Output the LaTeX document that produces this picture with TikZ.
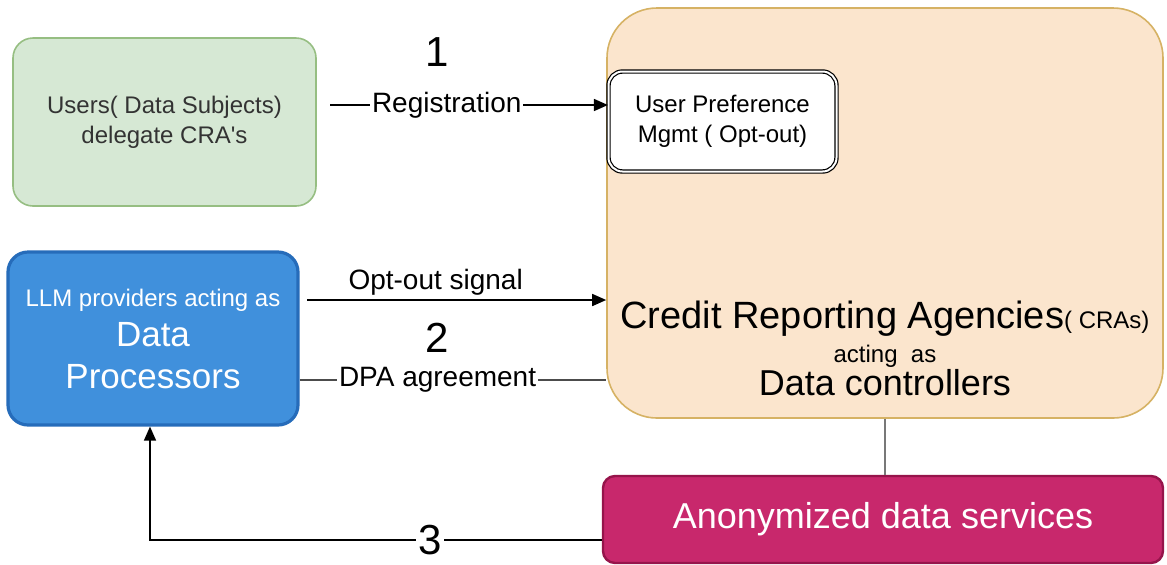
\documentclass[tikz,border=0pt]{standalone}
\usepackage{fontspec}
\setmainfont{Liberation Sans}
\usepackage{tikz}
\usetikzlibrary{calc}
\usetikzlibrary{positioning}
\usetikzlibrary{arrows.meta}

\definecolor{userfill}{RGB}{214,232,212}
\definecolor{userline}{RGB}{150,190,130}
\definecolor{llmfill}{RGB}{64,144,220}
\definecolor{llmline}{RGB}{38,108,186}
\definecolor{crafill}{RGB}{251,229,205}
\definecolor{craline}{RGB}{214,178,100}
\definecolor{anonfill}{RGB}{200,40,108}
\definecolor{anonline}{RGB}{150,20,75}
\definecolor{wire}{RGB}{120,120,120}

\begin{document}
\begin{tikzpicture}[x=0.5pt, y=-0.5pt,
    box/.style={rectangle, rounded corners=10pt, draw, line width=0.8pt, align=center, inner sep=0pt},
    flow/.style={line width=0.8pt, -{Triangle[length=7pt,width=6pt]}},
    num/.style={inner sep=1pt, font=\fontsize{21}{24}\selectfont},
    lbl/.style={fill=white, inner sep=1pt, font=\fontsize{14}{16}\selectfont}]
    \useasboundingbox (0,0) rectangle (1167,564);

    % boxes
    \node[box, fill=userfill, draw=userline, text=black!80, minimum width=151.5pt, minimum height=84pt,
        font=\fontsize{12}{15}\selectfont] (users) at (164.5,122) {Users( Data Subjects)\\ delegate CRA\textquotesingle s};
    \node[box, fill=llmfill, draw=llmline, line width=1.6pt, text=white, minimum width=145pt, minimum height=86.5pt,
        font=\fontsize{12}{15}\selectfont] (llm) at (153,338.5)
        {LLM providers acting as\\[5pt] {\fontsize{17.5}{21}\selectfont Data}\\[6pt] {\fontsize{17.5}{21}\selectfont Processors}};
    \node[box, fill=crafill, draw=craline, rounded corners=25pt, minimum width=278pt, minimum height=205pt] (cra) at (885,213) {};
    \node[box, fill=white, double, double distance=1pt, line width=0.6pt, rounded corners=7pt, minimum width=114pt, minimum height=50pt,
        font=\fontsize{12}{15}\selectfont] (pref) at (722.5,121.5) {User Preference\\ Mgmt ( Opt-out)};
    \node[align=center, font=\fontsize{12}{15}\selectfont] (ctrl) at (885,348)
        {{\fontsize{19}{22}\selectfont Credit Reporting Agencies}{\fontsize{12}{14}\selectfont( CRAs)}\\[2pt]
         acting\ \ as\\ {\fontsize{18}{21}\selectfont Data controllers}};
    \node[box, fill=anonfill, draw=anonline, line width=1.2pt, rounded corners=6pt, text=white, minimum width=280pt, minimum height=43.5pt,
        font=\fontsize{18}{21}\selectfont] (anon) at (883,519.5) {Anonymized data services};

    % connectors
    \coordinate (regstart) at (330,105);
    \coordinate (optstart) at (307,300);
    \coordinate (dpa) at (0,380);
    \coordinate (back) at (0,540);
    \draw[flow] (regstart) -- node[lbl, pos=0.42] {Registration} (pref.west |- regstart);
    \draw[flow] (optstart) -- node[lbl, above=1pt, fill=none, pos=0.43] {Opt-out signal} (cra.west |- optstart);
    \draw[line width=0.8pt, black!70] (llm.east |- dpa) -- node[lbl, text=black, pos=0.45] {DPA agreement} (cra.west |- dpa);
    \draw[line width=0.8pt, wire] (cra.south) -- (cra.south |- anon.north);
    \draw[flow] (anon.west |- back) -| node[num, fill=white, pos=0.19] {3} (llm.south -| 150,0);

    % step numbers
    \node[num] (one) at (437,52) {1};
    \node[num] (two) at (437,338) {2};
\end{tikzpicture}
\end{document}
